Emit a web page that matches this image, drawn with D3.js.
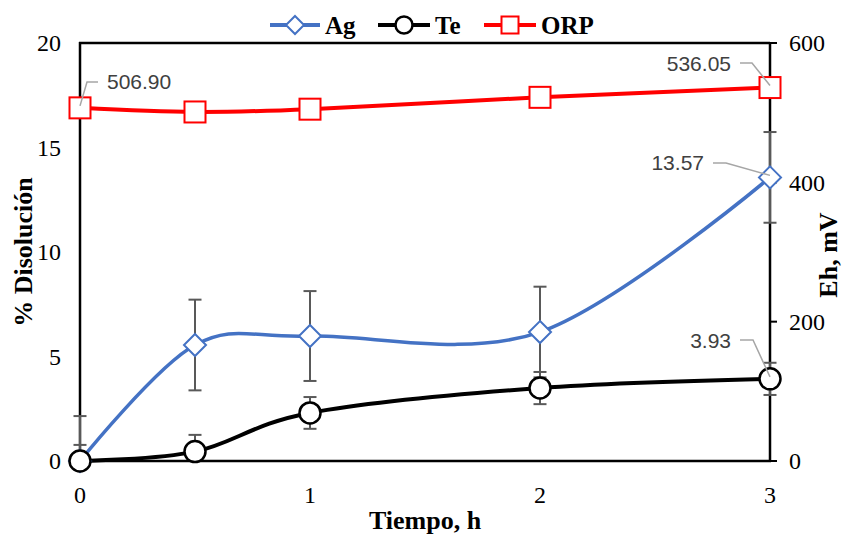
<!DOCTYPE html>
<html lang="es">
<head>
  <meta charset="UTF-8" />
  <title>Disolución Ag / Te y ORP</title>
  <style>
    html, body { margin: 0; padding: 0; background: #fff; }
    svg { display: block; }
    .tick-label { font-family: "Liberation Serif", "Times New Roman", serif; font-size: 24px; fill: #000; }
    .axis-title { font-family: "Liberation Serif", "Times New Roman", serif; font-size: 26px; font-weight: bold; fill: #000; }
    .legend text { font-family: "Liberation Serif", "Times New Roman", serif; font-size: 25px; font-weight: bold; fill: #000; }
    .data-label { font-family: "Liberation Sans", Arial, sans-serif; font-size: 21px; fill: #404040; }
  </style>
</head>
<body>
  <svg width="844" height="535"></svg>

  <script src="https://d3js.org/d3.v7.min.js"></script>
  <script>
    // data
    const tiempo = [0, 0.5, 1, 2, 3];
    const ag = [0, 5.55, 5.98, 6.17, 13.57];
    const agErr = [2.15, 2.17, 2.15, 2.17, 2.17];
    const te = [0, 0.45, 2.3, 3.49, 3.93];
    const teErr = [0.77, 0.8, 0.76, 0.77, 0.77];
    const orp = [506.9, 501, 505, 522, 536.05];
    const xTicks = [0, 1, 2, 3];
    const yTicks = [0, 5, 10, 15, 20];
    const y2Ticks = [0, 200, 400, 600];

    const svg = d3.select("svg");
    const plotLeft = 80, plotRight = 770, plotTop = 43, plotBottom = 461;

    const x = d3.scaleLinear().domain([0, 3]).range([plotLeft, plotRight]);
    const y = d3.scaleLinear().domain([0, 20]).range([plotBottom, plotTop]);
    const y2 = d3.scaleLinear().domain([0, 600]).range([plotBottom, plotTop]);

    const curve = d3.curveCardinal.tension(0);
    const grey = "#595959";

    // axes frame
    const frame = svg.append("g").attr("stroke", "#000").attr("stroke-width", 2.5);
    frame.append("line").attr("x1", plotLeft).attr("x2", plotLeft).attr("y1", plotTop - 1).attr("y2", plotBottom);
    frame.append("line").attr("x1", plotRight).attr("x2", plotRight).attr("y1", plotTop - 1).attr("y2", plotBottom);
    frame.append("line").attr("x1", plotLeft - 1).attr("x2", plotRight).attr("y1", plotTop).attr("y2", plotTop);
    frame.append("line").attr("x1", plotLeft - 1).attr("x2", plotRight + 1).attr("y1", plotBottom).attr("y2", plotBottom);

    // right axis tick marks
    svg.append("g").selectAll("line")
      .data(y2Ticks)
      .join("line")
      .attr("x1", plotRight).attr("x2", plotRight + 7)
      .attr("y1", d => y2(d)).attr("y2", d => y2(d))
      .attr("stroke", "#000").attr("stroke-width", 2);

    // tick labels
    svg.append("g").selectAll("text")
      .data(yTicks)
      .join("text")
      .attr("class", "tick-label")
      .attr("x", 61).attr("y", d => y(d))
      .attr("dy", "0.35em")
      .attr("text-anchor", "end")
      .text(d => d);

    svg.append("g").selectAll("text")
      .data(y2Ticks)
      .join("text")
      .attr("class", "tick-label")
      .attr("x", 789).attr("y", d => y2(d))
      .attr("dy", "0.35em")
      .text(d => d);

    svg.append("g").selectAll("text")
      .data(xTicks)
      .join("text")
      .attr("class", "tick-label")
      .attr("x", d => x(d)).attr("y", 495)
      .attr("dy", "0.35em")
      .attr("text-anchor", "middle")
      .text(d => d);

    // axis titles
    svg.append("text").attr("class", "axis-title")
      .attr("x", 425).attr("y", 529)
      .attr("text-anchor", "middle")
      .text("Tiempo, h");

    svg.append("text").attr("class", "axis-title")
      .attr("transform", "translate(32,252) rotate(-90)")
      .attr("text-anchor", "middle")
      .text("% Disolución");

    svg.append("text").attr("class", "axis-title")
      .attr("transform", "translate(837,255) rotate(-90)")
      .attr("text-anchor", "middle")
      .text("Eh, mV");

    // error bars
    function errorBars(vals, errs) {
      const g = svg.append("g").attr("stroke", grey).attr("stroke-width", 2);
      tiempo.forEach((t, i) => {
        const cx = x(t), y0 = y(vals[i] - errs[i]), y1 = y(vals[i] + errs[i]);
        g.append("line").attr("x1", cx).attr("x2", cx).attr("y1", Math.min(y0, plotBottom)).attr("y2", y1);
        g.append("line").attr("x1", cx - 6.5).attr("x2", cx + 6.5).attr("y1", y1).attr("y2", y1);
        if (y0 <= plotBottom) {
          g.append("line").attr("x1", cx - 6.5).attr("x2", cx + 6.5).attr("y1", y0).attr("y2", y0);
        }
      });
    }
    errorBars(ag, agErr);
    errorBars(te, teErr);

    // lines
    const lineLeft = d3.line().x((d, i) => x(tiempo[i])).y(d => y(d)).curve(curve);
    const lineRight = d3.line().x((d, i) => x(tiempo[i])).y(d => y2(d)).curve(curve);

    svg.append("path").datum(ag).attr("d", lineLeft)
      .attr("fill", "none").attr("stroke", "#4472C4").attr("stroke-width", 3.5);
    svg.append("path").datum(te).attr("d", lineLeft)
      .attr("fill", "none").attr("stroke", "#000").attr("stroke-width", 4);
    svg.append("path").datum(orp).attr("d", lineRight)
      .attr("fill", "none").attr("stroke", "#FF0000").attr("stroke-width", 4);

    // markers
    const diamond = "M0,-11L11,0L0,11L-11,0Z";
    svg.append("g").selectAll("path")
      .data(ag)
      .join("path")
      .attr("d", diamond)
      .attr("transform", (d, i) => `translate(${x(tiempo[i])},${y(d)})`)
      .attr("fill", "#fff").attr("stroke", "#4472C4").attr("stroke-width", 2);

    svg.append("g").selectAll("circle")
      .data(te)
      .join("circle")
      .attr("cx", (d, i) => x(tiempo[i])).attr("cy", d => y(d))
      .attr("r", 10.5)
      .attr("fill", "#fff").attr("stroke", "#000").attr("stroke-width", 2.5);

    svg.append("g").selectAll("rect")
      .data(orp)
      .join("rect")
      .attr("x", (d, i) => x(tiempo[i]) - 10.5).attr("y", d => y2(d) - 10.5)
      .attr("width", 21).attr("height", 21)
      .attr("fill", "#fff").attr("stroke", "#FF0000").attr("stroke-width", 2);

    // data labels with leader lines
    const last = tiempo.length - 1;
    const labels = [
      { px: x(tiempo[0]), py: y2(orp[0]), text: orp[0].toFixed(2), tx: 107, ty: 82, anchor: "start", bend: [[87, 82], [98, 82]] },
      { px: x(tiempo[last]), py: y2(orp[last]), text: orp[last].toFixed(2), tx: 731, ty: 64, anchor: "end", bend: [[752, 63], [740, 63]] },
      { px: x(tiempo[last]), py: y(ag[last]), text: ag[last].toFixed(2), tx: 704, ty: 163, anchor: "end", bend: [[726, 163], [713, 163]] },
      { px: x(tiempo[last]), py: y(te[last]), text: te[last].toFixed(2), tx: 731, ty: 341, anchor: "end", bend: [[753, 340], [740, 340]] }
    ];

    labels.forEach(l => {
      const pts = [[l.px, l.py - 2], ...l.bend];
      svg.append("path")
        .attr("d", d3.line()(pts))
        .attr("fill", "none").attr("stroke", "#A6A6A6").attr("stroke-width", 1.5);
      svg.append("text").attr("class", "data-label")
        .attr("x", l.tx).attr("y", l.ty)
        .attr("dy", "0.35em")
        .attr("text-anchor", l.anchor)
        .text(l.text);
    });

    // legend
    const legend = svg.append("g").attr("class", "legend");
    const items = [
      { name: "Ag", color: "#4472C4", x0: 270, x1: 320, shape: "diamond" },
      { name: "Te", color: "#000", x0: 378, x1: 430, shape: "circle" },
      { name: "ORP", color: "#FF0000", x0: 484, x1: 536, shape: "square" }
    ];
    const ly = 25;
    items.forEach(it => {
      const mid = (it.x0 + it.x1) / 2;
      legend.append("line")
        .attr("x1", it.x0).attr("x2", it.x1).attr("y1", ly).attr("y2", ly)
        .attr("stroke", it.color).attr("stroke-width", 4);
      if (it.shape === "diamond") {
        legend.append("path").attr("d", "M0,-9L9,0L0,9L-9,0Z")
          .attr("transform", `translate(${mid},${ly})`)
          .attr("fill", "#fff").attr("stroke", it.color).attr("stroke-width", 2);
      } else if (it.shape === "circle") {
        legend.append("circle").attr("cx", mid).attr("cy", ly).attr("r", 8.5)
          .attr("fill", "#fff").attr("stroke", it.color).attr("stroke-width", 2.5);
      } else {
        legend.append("rect").attr("x", mid - 8.5).attr("y", ly - 8.5)
          .attr("width", 17).attr("height", 17)
          .attr("fill", "#fff").attr("stroke", it.color).attr("stroke-width", 2);
      }
      legend.append("text")
        .attr("x", it.x1 + 5).attr("y", ly)
        .attr("dy", "0.35em")
        .text(it.name);
    });
  </script>
</body>
</html>
